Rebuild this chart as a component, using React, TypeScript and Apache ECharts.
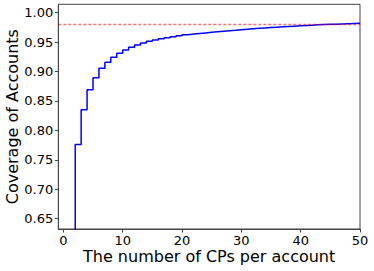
import React, { useEffect, useRef } from "react";
import * as echarts from "echarts";

const cps: number[] = [
  1, 2, 3, 4, 5, 6, 7, 8, 9, 10, 11, 12, 13, 14, 15, 16, 17, 18, 19, 20, 21, 22, 23, 24, 25,
  26, 27, 28, 29, 30, 31, 32, 33, 34, 35, 36, 37, 38, 39, 40, 41, 42, 43, 44, 45, 46, 47, 48, 49, 50,
];
const coverage: number[] = [
  0.5, 0.776, 0.835, 0.869, 0.8896, 0.9055, 0.9157, 0.9243, 0.931, 0.9366, 0.9412, 0.945, 0.9485,
  0.9514, 0.9536, 0.9558, 0.9575, 0.9592, 0.961, 0.9626, 0.9637, 0.9647, 0.9657, 0.9667, 0.9676,
  0.9685, 0.9694, 0.9702, 0.9711, 0.9719, 0.9727, 0.9734, 0.9741, 0.9748, 0.9754, 0.976, 0.9766,
  0.9772, 0.9778, 0.9784, 0.9789, 0.9794, 0.9798, 0.9802, 0.9806, 0.981, 0.9814, 0.9817, 0.982,
  0.9824,
];
const threshold = 0.9825;
const xTicks: number[] = [0, 10, 20, 30, 40, 50];
const yTicks: number[] = [0.65, 0.7, 0.75, 0.8, 0.85, 0.9, 0.95, 1.0];

export default function App() {
  const ref = useRef<HTMLDivElement>(null);
  useEffect(() => {
    if (!ref.current) return;
    const chart = echarts.init(ref.current, undefined, { renderer: "svg" });
    const font = "DejaVu Sans";
    chart.setOption({
      animation: false,
      grid: {
        left: 58.3,
        right: 14,
        top: 4.3,
        bottom: 42,
        show: true,
        borderColor: "#444",
        borderWidth: 1,
        containLabel: false,
        outerBoundsMode: "none",
      },
      xAxis: {
        type: "value",
        min: -0.85,
        max: 50,
        name: "The number of CPs per account",
        nameLocation: "middle",
        nameGap: 19,
        nameMoveOverlap: false,
        nameTextStyle: { fontFamily: font, fontSize: 16, color: "#000" },
        axisLine: { show: true, onZero: false, lineStyle: { color: "#444", width: 1 } },
        axisTick: { show: true, inside: false, length: 3.5, customValues: xTicks, lineStyle: { color: "#444" } },
        axisLabel: {
          customValues: xTicks,
          fontFamily: font,
          fontSize: 13,
          color: "#000",
          margin: 5,
        },
        splitLine: { show: false },
      },
      yAxis: {
        type: "value",
        min: 0.6325,
        max: 1.0143,
        name: "Coverage of Accounts",
        nameLocation: "middle",
        nameGap: 38,
        nameMoveOverlap: false,
        nameTextStyle: { fontFamily: font, fontSize: 16, color: "#000" },
        axisLine: { show: true, onZero: false, lineStyle: { color: "#444", width: 1 } },
        axisTick: { show: true, inside: false, length: 3.5, customValues: yTicks, lineStyle: { color: "#444" } },
        axisLabel: {
          customValues: yTicks,
          fontFamily: font,
          fontSize: 13,
          color: "#000",
          margin: 5,
          formatter: (v: number) => v.toFixed(2),
        },
        splitLine: { show: false },
      },
      series: [
        {
          type: "line",
          step: "end",
          showSymbol: false,
          symbol: "none",
          clip: true,
          data: cps.map((x, i) => [x, coverage[i]]),
          lineStyle: { color: "#0000ff", width: 1.5 },
          markLine: {
            silent: true,
            symbol: "none",
            label: { show: false },
            lineStyle: { color: "rgba(255,0,0,0.55)", type: [3, 2], width: 1.3 },
            data: [{ yAxis: threshold }],
          },
        },
      ],
    });
    return () => chart.dispose();
  }, []);
  return (
    <div
      ref={ref}
      style={{ position: "fixed", left: 0, top: 0, width: 374, height: 271, background: "#fff" }}
    />
  );
}
